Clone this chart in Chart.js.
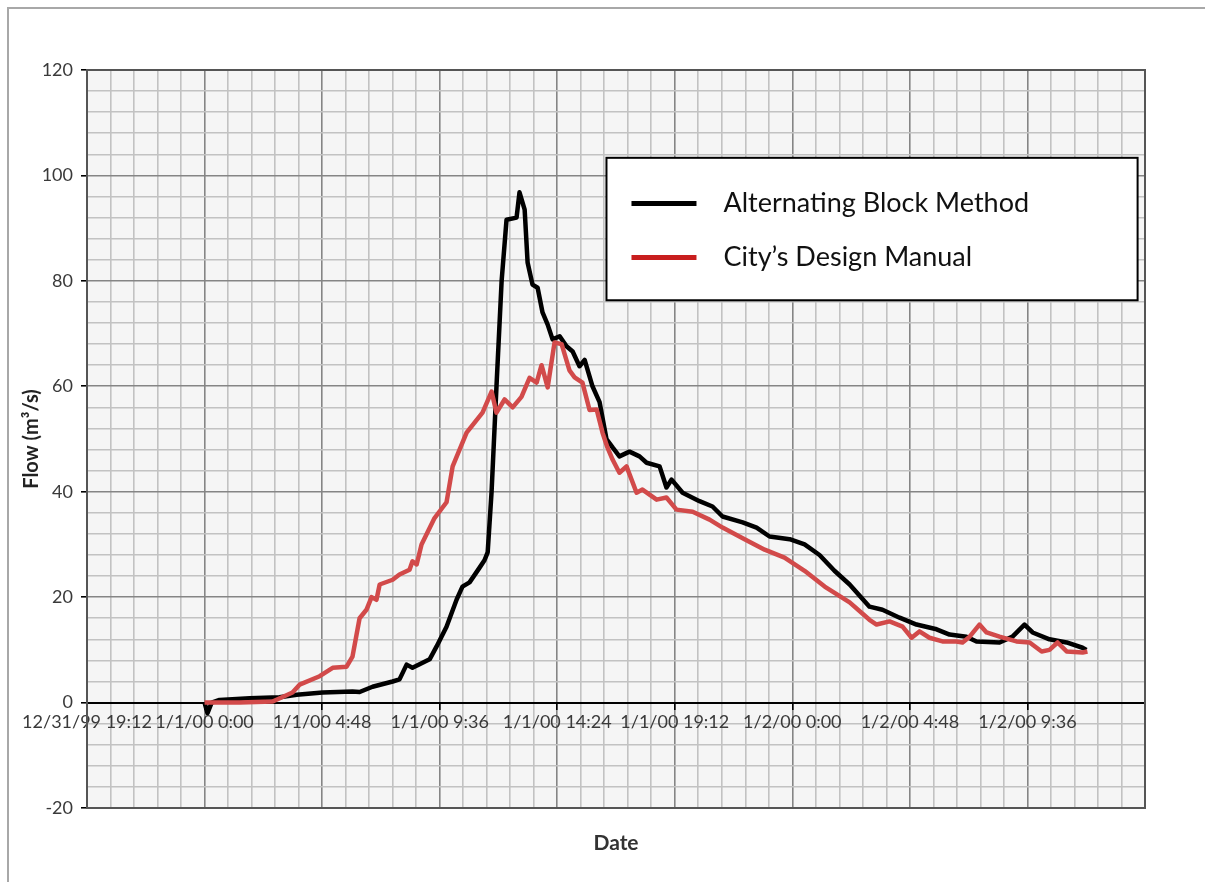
<!DOCTYPE html>
<html>
<head>
<meta charset="utf-8">
<script src="https://cdn.jsdelivr.net/npm/chart.js@4"></script>
<style>
  html, body { margin: 0; padding: 0; background: #fff; }
</style>
</head>
<body>
<canvas id="flow" width="1205" height="882"></canvas>
<script>
// time in hours after 1/1/00 0:00, flow in m3/s
const hoursABM = [0, 0.12, 0.29, 0.61, 1.84, 3.06, 3.76, 4.82, 6.04, 6.33, 6.86, 7.68, 7.96, 8.25, 8.49, 9.19, 9.47, 9.88,
  10.29, 10.53, 10.82, 11.23, 11.43, 11.56, 11.72, 11.92, 12.13, 12.33, 12.74, 12.86, 13.07, 13.19, 13.39, 13.6, 13.8,
  14.01, 14.21, 14.5, 14.78, 15.03, 15.31, 15.52, 15.84, 16.13, 16.41, 16.66, 16.94, 17.35, 17.76, 18.05, 18.58, 18.86,
  19.07, 19.52, 20.21, 20.74, 21.15, 21.97, 22.54, 23.07, 23.89, 24.5, 25.11, 25.72, 26.34, 27.15, 27.68, 28.38, 29.07,
  29.89, 30.42, 31.11, 31.52, 32.46, 32.99, 33.48, 33.81, 34.5, 35.2, 35.85, 36.01];
const flowABM = [0, -2, 0, 0.5, 0.8, 1.0, 1.5, 1.9, 2.1, 2.0, 3.0, 4.0, 4.4, 7.2, 6.6, 8.2, 10.6, 14.4,
  19.5, 22, 22.8, 25.6, 27, 28.5, 40, 60, 80, 91.6, 92, 96.8, 93.5, 83.5, 79.3, 78.7, 74,
  71.7, 68.9, 69.5, 67.6, 66.6, 63.8, 65, 60, 57, 50, 48.4, 46.7, 47.6, 46.7, 45.5, 44.8, 40.8,
  42.3, 39.8, 38.2, 37.2, 35.3, 34.2, 33.2, 31.5, 31, 30, 28, 25, 22.4, 18.2, 17.6, 16.1, 14.8,
  13.9, 12.9, 12.5, 11.6, 11.4, 12.5, 14.8, 13.3, 12, 11.4, 10.4, 10];

const hoursCDM = [0, 1.43, 2.78, 3.59, 3.88, 4.7, 5.23, 5.8, 6.04, 6.33, 6.61, 6.82, 7.02, 7.15, 7.68, 7.96, 8.37, 8.49,
  8.66, 8.86, 9.39, 9.88, 10.13, 10.7, 11.35, 11.72, 11.92, 12.25, 12.58, 12.94, 13.27, 13.56, 13.76, 14.01, 14.29,
  14.58, 14.9, 15.11, 15.43, 15.72, 16.01, 16.25, 16.45, 16.66, 16.94, 17.23, 17.64, 17.88, 18.46, 18.86, 19.27, 19.93,
  20.62, 21.15, 22.05, 22.87, 23.68, 24.5, 25.32, 26.34, 27.15, 27.44, 27.97, 28.5, 28.87, 29.19, 29.6, 30.13, 30.7,
  30.95, 31.24, 31.64, 31.93, 32.46, 33.15, 33.69, 34.18, 34.5, 34.83, 35.2, 35.85, 36.05];
const flowCDM = [0, 0, 0.2, 1.9, 3.4, 5, 6.6, 6.8, 8.7, 16, 17.6, 20, 19.5, 22.4, 23.3, 24.3, 25.2, 26.8,
  26.2, 30, 35, 38, 44.8, 51.2, 55, 59, 55, 57.5, 56, 58, 61.6, 60.7, 64, 59.8, 68.3,
  68, 63, 61.7, 60.7, 55.5, 55.6, 51.2, 48.4, 46.1, 43.6, 44.8, 39.8, 40.4, 38.5, 38.9, 36.6, 36.2,
  34.7, 33.2, 31, 29, 27.5, 25, 22, 19, 15.7, 14.8, 15.4, 14.4, 12.3, 13.5, 12.3, 11.6, 11.6,
  11.4, 12.5, 14.8, 13.3, 12.5, 11.6, 11.4, 9.7, 10, 11.4, 9.7, 9.5, 9.7];

const seriesNames = ['Alternating Block Method', 'City\u2019s Design Manual'];
const tickLabels = ['12/31/99 19:12', '1/1/00 0:00', '1/1/00 4:48', '1/1/00 9:36', '1/1/00 14:24',
  '1/1/00 19:12', '1/2/00 0:00', '1/2/00 4:48', '1/2/00 9:36', ''];

const xStart = -4.8, xEnd = 38.4, xMinor = 0.96;
const fam = 'Lato, "Open Sans", sans-serif';
const tickFont = { family: fam, size: 18 };
const boldFont = { family: fam, size: 20, weight: 'bold' };

function isMajorX(v) { return Math.round((v - xStart) / xMinor) % 5 === 0; }
function isMajorY(v) { return Math.round(v) % 20 === 0; }

const frame = {
  id: 'frame',
  beforeDraw(chart) {
    const { ctx, chartArea: a } = chart;
    ctx.save();
    ctx.fillStyle = '#f5f5f5';
    ctx.fillRect(a.left, a.top, a.right - a.left, a.bottom - a.top);
    // outer border of the figure
    ctx.strokeStyle = '#a8a8a8';
    ctx.lineWidth = 2;
    ctx.beginPath();
    ctx.moveTo(8, 882);
    ctx.lineTo(8, 8);
    ctx.lineTo(1205, 8);
    ctx.stroke();
    ctx.restore();
  },
  afterDraw(chart) {
    const { ctx, chartArea: a } = chart;
    ctx.save();
    ctx.strokeStyle = '#555';
    ctx.lineWidth = 2;
    ctx.strokeRect(a.left, a.top, a.right - a.left, a.bottom - a.top);

    // x axis title
    ctx.fillStyle = '#333';
    ctx.font = 'bold 21px ' + fam;
    ctx.textAlign = 'center';
    ctx.textBaseline = 'middle';
    ctx.fillText('Date', (a.left + a.right) / 2, a.bottom + 35);

    // legend box
    const w = a.right - a.left, h = a.bottom - a.top;
    const lx = a.left + w * 0.491, ly = a.top + h * 0.119;
    const lw = w * 0.502, lh = h * 0.193;
    ctx.fillStyle = '#fff';
    ctx.fillRect(lx, ly, lw, lh);
    ctx.strokeStyle = '#000';
    ctx.lineWidth = 2;
    ctx.strokeRect(lx, ly, lw, lh);
    const colors = ['#000', '#c81e1e'];
    const rows = [ly + lh * 0.32, ly + lh * 0.70];
    ctx.font = '27px ' + fam;
    ctx.textAlign = 'left';
    seriesNames.forEach((name, i) => {
      ctx.strokeStyle = colors[i];
      ctx.lineWidth = 5;
      ctx.beginPath();
      ctx.moveTo(lx + 25, rows[i]);
      ctx.lineTo(lx + 90, rows[i]);
      ctx.stroke();
      ctx.fillStyle = '#111';
      ctx.fillText(name, lx + 117, rows[i]);
    });
    ctx.restore();
  }
};

new Chart(document.getElementById('flow'), {
  type: 'line',
  data: {
    datasets: [{
      label: seriesNames[0],
      data: hoursABM.map((h, i) => ({ x: h, y: flowABM[i] })),
      borderColor: '#000',
      borderWidth: 4.5,
      pointRadius: 0,
      borderJoinStyle: 'round',
      order: 2
    }, {
      label: seriesNames[1],
      data: hoursCDM.map((h, i) => ({ x: h, y: flowCDM[i] })),
      borderColor: '#d24a4a',
      borderWidth: 4.5,
      pointRadius: 0,
      borderJoinStyle: 'round',
      order: 1
    }]
  },
  options: {
    responsive: false,
    animation: false,
    layout: { padding: { top: 70, right: 60, bottom: 74, left: 0 } },
    plugins: { legend: { display: false }, tooltip: { enabled: false } },
    scales: {
      x: {
        type: 'linear',
        position: { y: 0 },
        min: xStart,
        max: xEnd,
        border: { color: '#000', width: 2 },
        grid: {
          color: c => isMajorX(c.tick.value) ? '#858585' : '#c2c2c2',
          lineWidth: 1.6,
          tickLength: 6,
          tickColor: c => isMajorX(c.tick.value) ? '#000' : 'rgba(0,0,0,0)'
        },
        ticks: {
          stepSize: xMinor,
          autoSkip: false,
          maxRotation: 0,
          padding: 3,
          color: '#3a3a3a',
          font: tickFont,
          callback: v => isMajorX(v) ? tickLabels[Math.round((v - xStart) / xMinor) / 5] : ''
        }
      },
      y: {
        min: -20,
        max: 120,
        border: { color: '#000', width: 2 },
        grid: {
          color: c => isMajorY(c.tick.value) ? '#858585' : '#c2c2c2',
          lineWidth: 1.6,
          tickLength: 6,
          tickColor: c => isMajorY(c.tick.value) ? '#000' : 'rgba(0,0,0,0)'
        },
        ticks: {
          stepSize: 4,
          autoSkip: false,
          padding: 8,
          color: '#3a3a3a',
          font: tickFont,
          callback: v => isMajorY(v) ? v : ''
        },
        title: {
          display: true,
          text: 'Flow (m\u00b3/s)',
          color: '#222',
          font: boldFont,
          padding: { top: 20, bottom: 0 }
        },
        afterFit: s => { s.width = 87; }
      }
    }
  },
  plugins: [frame]
});
</script>
</body>
</html>
